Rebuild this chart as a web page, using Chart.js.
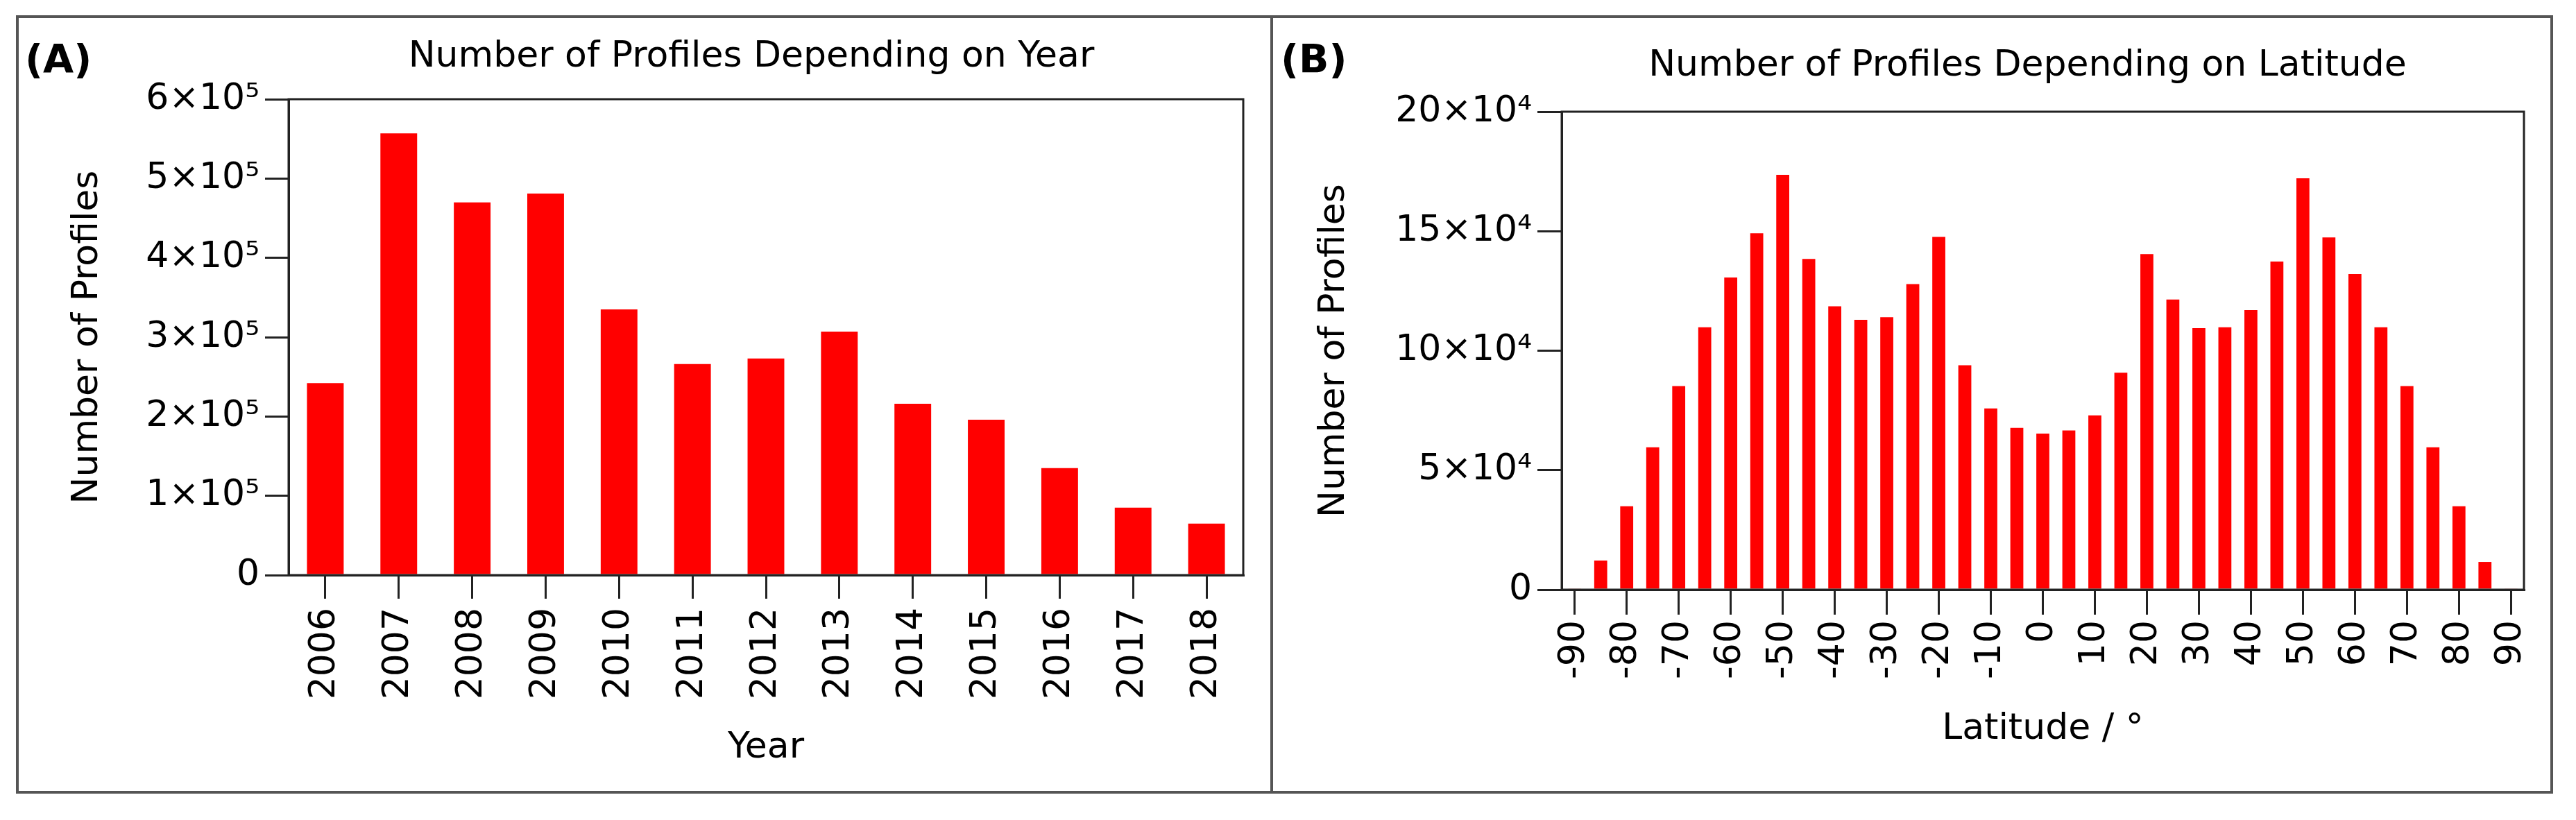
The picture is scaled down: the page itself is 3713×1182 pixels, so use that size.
<!DOCTYPE html>
<html>
<head>
<meta charset="utf-8">
<script src="https://cdn.jsdelivr.net/npm/chart.js@4.4.1/dist/chart.umd.min.js"></script>
<style>
  html, body { margin: 0; padding: 0; background: #fff; width: 3713px; height: 1182px; overflow: hidden; }
  canvas { position: absolute; top: 0; }
  #chartA { left: 0; }
  #chartB { left: 1833px; }
  .frame { position: absolute; left: 23px; top: 22px; width: 3649px; height: 1114px; border: 4px solid #555; }
  .divider { position: absolute; left: 1831px; top: 22px; width: 4px; height: 1122px; background: #555; }
</style>
</head>
<body>
<canvas id="chartA" width="1833" height="1182"></canvas>
<canvas id="chartB" width="1880" height="1182"></canvas>
<div class="frame"></div>
<div class="divider"></div>
<script>
// ---- Data ----
const yearCategories = ['2006','2007','2008','2009','2010','2011','2012','2013','2014','2015','2016','2017','2018'];
const yearCounts = [242000, 557000, 470000, 481000, 335000, 266000, 273000, 307000, 216000, 196000, 135000, 85000, 65000];
const yearTickLabels = ['0', '1×10⁵', '2×10⁵', '3×10⁵', '4×10⁵', '5×10⁵', '6×10⁵'];

const latitudeCategories = [-90,-85,-80,-75,-70,-65,-60,-55,-50,-45,-40,-35,-30,-25,-20,-15,-10,-5,0,5,10,15,20,25,30,35,40,45,50,55,60,65,70,75,80,85,90];
const latitudeCounts = [400, 12200, 34900, 59600, 85200, 109800, 130600, 149100, 173600, 138400, 118600, 112900, 114000, 127900, 147600, 93900, 75800, 67700, 65300, 66600, 72900, 90800, 140400, 121400, 109400, 109800, 117000, 137300, 172100, 147400, 132100, 109800, 85200, 59600, 34900, 11600, 400];
const latitudeTickLabels = ['0', '5×10⁴', '10×10⁴', '15×10⁴', '20×10⁴'];

const panelATitle = 'Number of Profiles Depending on Year';
const panelBTitle = 'Number of Profiles Depending on Latitude';

Chart.defaults.font.family = '"DejaVu Sans", sans-serif';
Chart.defaults.color = '#000';

const AXIS = '#222';

function decor(o) {
  return {
    id: 'decor',
    afterDraw(chart) {
      const ctx = chart.ctx, a = chart.chartArea;
      ctx.save();
      ctx.strokeStyle = AXIS;
      ctx.lineWidth = 3;
      ctx.strokeRect(a.left, a.top, a.right - a.left, a.bottom - a.top);
      ctx.fillStyle = '#000';
      ctx.font = '52px "DejaVu Sans"';
      ctx.textAlign = 'center';
      ctx.textBaseline = 'alphabetic';
      ctx.fillText(o.title, (a.left + a.right) / 2 + o.titleDx, a.top - o.titleRise);
      ctx.font = 'bold 57px "DejaVu Sans"';
      ctx.textAlign = 'left';
      ctx.fillText(o.tag, o.tagX, o.tagY);
      ctx.restore();
    }
  };
}

function makeChart(canvasId, cfg) {
  return new Chart(document.getElementById(canvasId), {
    type: 'bar',
    data: {
      labels: cfg.labels,
      datasets: [{
        data: cfg.values,
        backgroundColor: '#ff0000',
        borderWidth: 0,
        barPercentage: 0.5,
        categoryPercentage: 1.0
      }]
    },
    options: {
      responsive: false,
      animation: false,
      devicePixelRatio: 1,
      layout: { padding: cfg.padding },
      plugins: { legend: { display: false }, tooltip: { enabled: false } },
      scales: {
        x: {
          type: 'category',
          offset: true,
          grid: {
            display: true, drawOnChartArea: false, drawTicks: true,
            tickLength: cfg.xTickLen, lineWidth: 3, offset: false,
            color: cfg.xGridColor
          },
          border: { display: true, color: AXIS, width: 3 },
          ticks: {
            autoSkip: false, minRotation: 90, maxRotation: 90,
            padding: cfg.xTickPad, color: '#000', font: { size: 52 },
            callback: cfg.xCallback
          },
          title: {
            display: true, text: cfg.xTitle, color: '#000', font: { size: 52 },
            padding: { top: 0, bottom: cfg.xTitlePad }
          },
          afterFit(s) { s.height = cfg.xHeight; }
        },
        y: {
          min: 0, max: cfg.yMax,
          grid: {
            display: true, drawOnChartArea: false, drawTicks: true,
            tickLength: cfg.yTickLen, lineWidth: 3, color: AXIS
          },
          border: { display: true, color: AXIS, width: 3 },
          ticks: {
            stepSize: cfg.yStep, padding: 8, color: '#000', font: { size: 52 },
            callback: (v) => cfg.yLabels[Math.round(v / cfg.yStep)]
          },
          title: {
            display: true, text: 'Number of Profiles', color: '#000', font: { size: 52 },
            padding: { top: cfg.yTitlePad, bottom: 0 }
          },
          afterFit(s) { s.width = cfg.yWidth; }
        }
      }
    },
    plugins: [decor(cfg.decor)]
  });
}

makeChart('chartA', {
  labels: yearCategories,
  values: yearCounts,
  padding: { left: 0, top: 143, right: 41, bottom: 0 },
  xTickLen: 34, xTickPad: 13, xTitle: 'Year', xTitlePad: 72, xHeight: 353,
  xGridColor: AXIS,
  xCallback: (v, i) => yearCategories[i],
  yMax: 600000, yStep: 100000, yLabels: yearTickLabels,
  yTickLen: 34, yTitlePad: 95, yWidth: 416,
  decor: { title: panelATitle, titleDx: -21, titleRise: 47, tag: '(A)', tagX: 36, tagY: 105 }
});

makeChart('chartB', {
  labels: latitudeCategories.map(String),
  values: latitudeCounts,
  padding: { left: 0, top: 161, right: 75, bottom: 0 },
  xTickLen: 36, xTickPad: 8, xTitle: 'Latitude / °', xTitlePad: 99, xHeight: 332,
  xGridColor: (ctx) => (ctx.index % 2 === 0 ? AXIS : 'rgba(0,0,0,0)'),
  xCallback: (v, i) => (i % 2 === 0 ? String(latitudeCategories[i]) : ''),
  yMax: 200000, yStep: 50000, yLabels: latitudeTickLabels,
  yTickLen: 35, yTitlePad: 59, yWidth: 418,
  decor: { title: panelBTitle, titleDx: -22, titleRise: 52, tag: '(B)', tagX: 13, tagY: 105 }
});
</script>
</body>
</html>
